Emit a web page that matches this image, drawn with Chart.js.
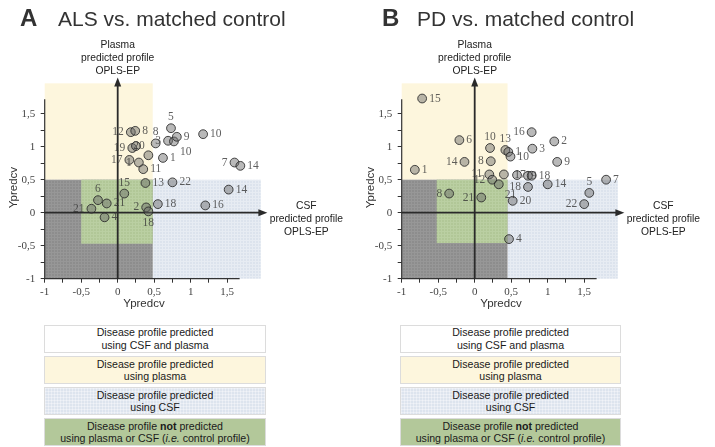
<!DOCTYPE html>
<html lang="en">
<head>
<meta charset="UTF-8"/>
<title>Ypredcv - CSF vs plasma predicted profiles</title>
<script src="https://cdn.jsdelivr.net/npm/chart.js"></script>
<style>
  body { margin: 0; background: #fff; font-family: "Liberation Sans", Arial, sans-serif; }
  .page { position: relative; width: 715px; height: 447px; overflow: hidden; }
  .page canvas { position: absolute; top: 0; }
  .letter { position: absolute; top: 6px; font-size: 24px; line-height: 24px; font-weight: bold; color: #333; }
  .ptitle { position: absolute; top: 8px; font-size: 21px; line-height: 21px; color: #333; }
  .key { position: absolute; top: 325px; }
  .key div {
    box-sizing: border-box; height: 27.7px; margin-bottom: 3.4px;
    border: 1.5px solid #dcdcdc; display: flex; align-items: center; justify-content: center;
    text-align: center; font-size: 10.6px; line-height: 12.4px; color: #1a1a1a;
  }
  .key .both { background: #fff; }
  .key .plasma { background: #fdf6dd; }
  .key .csf {
    background-color: #dde4ee;
    background-image: linear-gradient(rgba(255,255,255,.35) 1px, transparent 1px),
                      linear-gradient(90deg, rgba(255,255,255,.35) 1px, transparent 1px);
    background-size: 3px 3px;
  }
  .key .ctrl { background: #b3c89a; }
</style>
</head>
<body>
<div class="page">
  <canvas id="alsChart" width="357" height="320" style="left:0"></canvas>
  <canvas id="pdChart" width="357" height="320" style="left:356.6px"></canvas>

  <div class="letter" style="left:20px">A</div>
  <div class="ptitle" style="left:58px">ALS vs. matched control</div>
  <div class="letter" style="left:382px">B</div>
  <div class="ptitle" style="left:417px">PD vs. matched control</div>

  <div class="key" style="left:44px; width:222px">
    <div class="both">Disease profile predicted<br>using CSF and plasma</div>
    <div class="plasma">Disease profile predicted<br>using plasma</div>
    <div class="csf">Disease profile predicted<br>using CSF</div>
    <div class="ctrl"><span>Disease profile <b>not</b> predicted<br>using plasma or CSF (<i>i.e.</i> control profile)</span></div>
  </div>
  <div class="key" style="left:400px; width:221px">
    <div class="both">Disease profile predicted<br>using CSF and plasma</div>
    <div class="plasma">Disease profile predicted<br>using plasma</div>
    <div class="csf">Disease profile predicted<br>using CSF</div>
    <div class="ctrl"><span>Disease profile <b>not</b> predicted<br>using plasma or CSF (<i>i.e.</i> control profile)</span></div>
  </div>
</div>

<script>
  // ticks (both axes), labelled every 0.5
  const axisTicks = [-1, -0.75, -0.5, -0.25, 0, 0.25, 0.5, 0.75, 1, 1.25, 1.5];

  // A: ALS vs. matched control (x = CSF Ypredcv, y = plasma Ypredcv)
  const alsX = [0.18, 0.24, 0.20, 0.25, 0.52, 0.69, 0.77, 0.81, 0.73, 1.17, 0.62, 0.16, 0.29, 0.42, 0.35,
                1.60, 1.68, 0.38, 0.75, 1.52, 0.55, 1.20, 0.09, -0.27, -0.15, -0.36, -0.18, 0.39, 0.42];
  const alsY = [1.22, 1.24, 0.98, 1.01, 1.05, 1.09, 1.08, 1.15, 1.28, 1.19, 0.83, 0.80, 0.76, 0.87, 0.66,
                0.76, 0.71, 0.45, 0.46, 0.35, 0.13, 0.11, 0.29, 0.19, 0.14, 0.06, -0.07, 0.08, 0.02];
  const alsLabels = ['12', '8', '19', '20', '8', '3', '10', '9', '5', '10', '1', '17', '1', '', '11',
                     '7', '14', '13', '22', '14', '18', '16', '15', '6', '21', '21', '4', '2', '18'];

  // B: PD vs. matched control
  const pdX = [-0.72, -0.21, -0.82, -0.14, 0.21, 0.22, 0.42, 0.46, 0.49, 0.78, 0.79, 1.09, 1.13, 1.80, 1.57,
               1.50, 1.00, 0.73, 0.78, 0.58, 0.73, 0.52, 0.47, 0.20, 0.24, 0.33, 0.40, -0.35, 0.09];
  const pdY = [1.73, 1.10, 0.65, 0.77, 0.98, 0.78, 0.95, 0.92, 0.85, 1.22, 0.97, 1.08, 0.77, 0.50, 0.30,
               0.13, 0.43, 0.56, 0.56, 0.57, 0.39, 0.18, -0.40, 0.58, 0.50, 0.43, 0.58, 0.29, 0.23];
  const pdLabels = ['15', '6', '1', '14', '10', '8', '13', '1', '10', '16', '3', '2', '9', '7', '5',
                    '22', '14', '19', '18', '17', '18', '20', '4', '11', '12', '21', '', '8', '21'];

  // prediction thresholds / shaded regions
  const alsRegions = { csfCut: 0.48, plasmaCut: 0.5, ctrlLeft: -0.5, ctrlBottom: -0.47, end: 1.96 };
  const pdRegions  = { csfCut: 0.45, plasmaCut: 0.5, ctrlLeft: -0.52, ctrlBottom: -0.46, end: 1.96 };

  // where each point's number sits
  const alsSides = ['l', 'r', 'l', 'c', 't', 'l', 'br', 'r', 't', 'r', 'r', 'l', 'l', 'r', 'r',
                    'l', 'r', 'r', 'r', 'r', 'r', 'r', 't', 't', 'r', 'l', 'r', 'l', 'b'];
  const pdSides = ['r', 'r', 'r', 'l', 't', 'l', 't', 'r', 'r', 'l', 'r', 'r', 'r', 'r', 't',
                   'l', 'r', 'c', 'r', 'c', 'l', 'r', 'r', 'l', 'l', 'br', 'r', 'l', 'l'];

  const SIDE = { r: [7, 0, 'left'], l: [-7, 0, 'right'], t: [0, -11, 'center'], b: [0, 12, 'center'],
                 br: [6, 11, 'left'], c: [3, 0, 'center'] };

  function tickText(v) {
    const d = v * 2;
    if (Math.abs(d - Math.round(d)) > 1e-9) return '';
    return String(v).replace('.', ',');
  }

  function makePattern(ctx, base, line) {
    const c = document.createElement('canvas');
    c.width = c.height = 3;
    const g = c.getContext('2d');
    g.fillStyle = base; g.fillRect(0, 0, 3, 3);
    g.fillStyle = line; g.fillRect(0, 0, 3, 1); g.fillRect(0, 0, 1, 3);
    return ctx.createPattern(c, 'repeat');
  }

  function arrowHead(ctx, x, y, dir) {
    ctx.beginPath();
    if (dir === 'up') { ctx.moveTo(x, y); ctx.lineTo(x - 3.5, y + 9); ctx.lineTo(x + 3.5, y + 9); }
    else { ctx.moveTo(x, y); ctx.lineTo(x - 9, y - 3.5); ctx.lineTo(x - 9, y + 3.5); }
    ctx.closePath();
    ctx.fill();
  }

  function decor(reg, labels, sides) {
    return {
      id: 'decor',
      beforeDatasetsDraw(chart) {
        const { ctx, scales: { x, y } } = chart;
        const px = v => x.getPixelForValue(v), py = v => y.getPixelForValue(v);
        const box = (x0, x1, y0, y1, fill) => {
          ctx.fillStyle = fill;
          ctx.fillRect(px(x0), py(y1), px(x1) - px(x0), py(y0) - py(y1));
        };
        ctx.save();
        box(-1, reg.csfCut, reg.plasmaCut, reg.end, '#fdf6dd');
        box(reg.csfCut, reg.end, -1, reg.plasmaCut, makePattern(ctx, '#dce3ed', '#e7ecf3'));
        box(-1, reg.csfCut, -1, reg.plasmaCut, makePattern(ctx, '#8d8d8d', '#979797'));
        box(reg.ctrlLeft, reg.csfCut, reg.ctrlBottom, reg.plasmaCut, makePattern(ctx, '#b1c797', '#bacfa2'));

        // axis lines
        ctx.strokeStyle = '#333'; ctx.lineWidth = 1.2;
        ctx.beginPath();
        ctx.moveTo(px(-1), py(1.72)); ctx.lineTo(px(-1), py(-1)); ctx.lineTo(px(1.67), py(-1));
        ctx.stroke();

        // centre arrows
        ctx.strokeStyle = '#2a2a2a'; ctx.fillStyle = '#2a2a2a'; ctx.lineWidth = 1.8;
        ctx.beginPath();
        ctx.moveTo(px(0), py(-1)); ctx.lineTo(px(0), py(2.05) + 6);
        ctx.moveTo(px(-1), py(0)); ctx.lineTo(px(2.05) - 6, py(0));
        ctx.stroke();
        arrowHead(ctx, px(0), py(2.05), 'up');
        arrowHead(ctx, px(2.05), py(0), 'right');
        ctx.restore();
      },
      afterDatasetsDraw(chart) {
        const { ctx, scales: { x, y } } = chart;
        const pts = chart.getDatasetMeta(0).data;
        ctx.save();
        ctx.font = '11.5px "Liberation Serif", serif';
        ctx.fillStyle = 'rgba(55,55,55,0.8)';
        ctx.textBaseline = 'middle';
        pts.forEach((p, i) => {
          if (!labels[i]) return;
          const s = SIDE[sides[i]];
          ctx.textAlign = s[2];
          ctx.fillText(labels[i], p.x + s[0], p.y + s[1]);
        });

        // axis captions
        ctx.fillStyle = '#222';
        ctx.font = '10.3px "Liberation Sans", Arial, sans-serif';
        ctx.textAlign = 'center';
        const top = y.getPixelForValue(2.05);
        ['Plasma', 'predicted profile', 'OPLS-EP'].forEach((t, i) =>
          ctx.fillText(t, x.getPixelForValue(0), top - 6 - (2 - i) * 13));
        const tipX = x.getPixelForValue(2.05) + 39;
        ['CSF', 'predicted profile', 'OPLS-EP'].forEach((t, i) =>
          ctx.fillText(t, tipX, y.getPixelForValue(0) - 7 + i * 13));

        ctx.fillStyle = '#333';
        ctx.font = '11.5px "Liberation Sans", Arial, sans-serif';
        ctx.fillText('Ypredcv', x.getPixelForValue(0.36), y.getPixelForValue(-1) + 25);
        ctx.translate(14, y.getPixelForValue(0.38));
        ctx.rotate(-Math.PI / 2);
        ctx.fillText('Ypredcv', 0, 0);
        ctx.restore();
      }
    };
  }

  function axis(min, max, fit) {
    return {
      type: 'linear', min: min, max: max,
      afterBuildTicks: s => { s.ticks = axisTicks.map(v => ({ value: v })); },
      afterFit: fit,
      grid: { drawOnChartArea: false, tickLength: 4, color: '#333', lineWidth: 1 },
      border: { display: false },
      ticks: { callback: tickText, autoSkip: false, maxRotation: 0, color: '#444',
               font: { family: 'Liberation Serif', size: 11 } }
    };
  }

  function drawPanel(id, xs, ys, labels, sides, reg) {
    const xAxis = axis(-1, 2, s => { s.height = 41.3; });
    xAxis.ticks.padding = 3;
    const yAxis = axis(-1, 2.1, s => { s.width = 44.7; });
    yAxis.ticks.padding = 5.5;

    new Chart(document.getElementById(id), {
      type: 'scatter',
      data: {
        datasets: [{
          data: xs.map((v, i) => ({ x: v, y: ys[i] })),
          backgroundColor: 'rgba(100,100,100,0.45)',
          borderColor: 'rgba(40,40,40,0.85)',
          borderWidth: 1,
          pointRadius: 4.4
        }]
      },
      options: {
        responsive: false,
        animation: false,
        events: [],
        layout: { padding: { left: 0, right: 93.3, top: 74.1, bottom: 0 } },
        plugins: { legend: { display: false }, tooltip: { enabled: false } },
        scales: { x: xAxis, y: yAxis }
      },
      plugins: [decor(reg, labels, sides)]
    });
  }

  drawPanel('alsChart', alsX, alsY, alsLabels, alsSides, alsRegions);
  drawPanel('pdChart', pdX, pdY, pdLabels, pdSides, pdRegions);
</script>
</body>
</html>
